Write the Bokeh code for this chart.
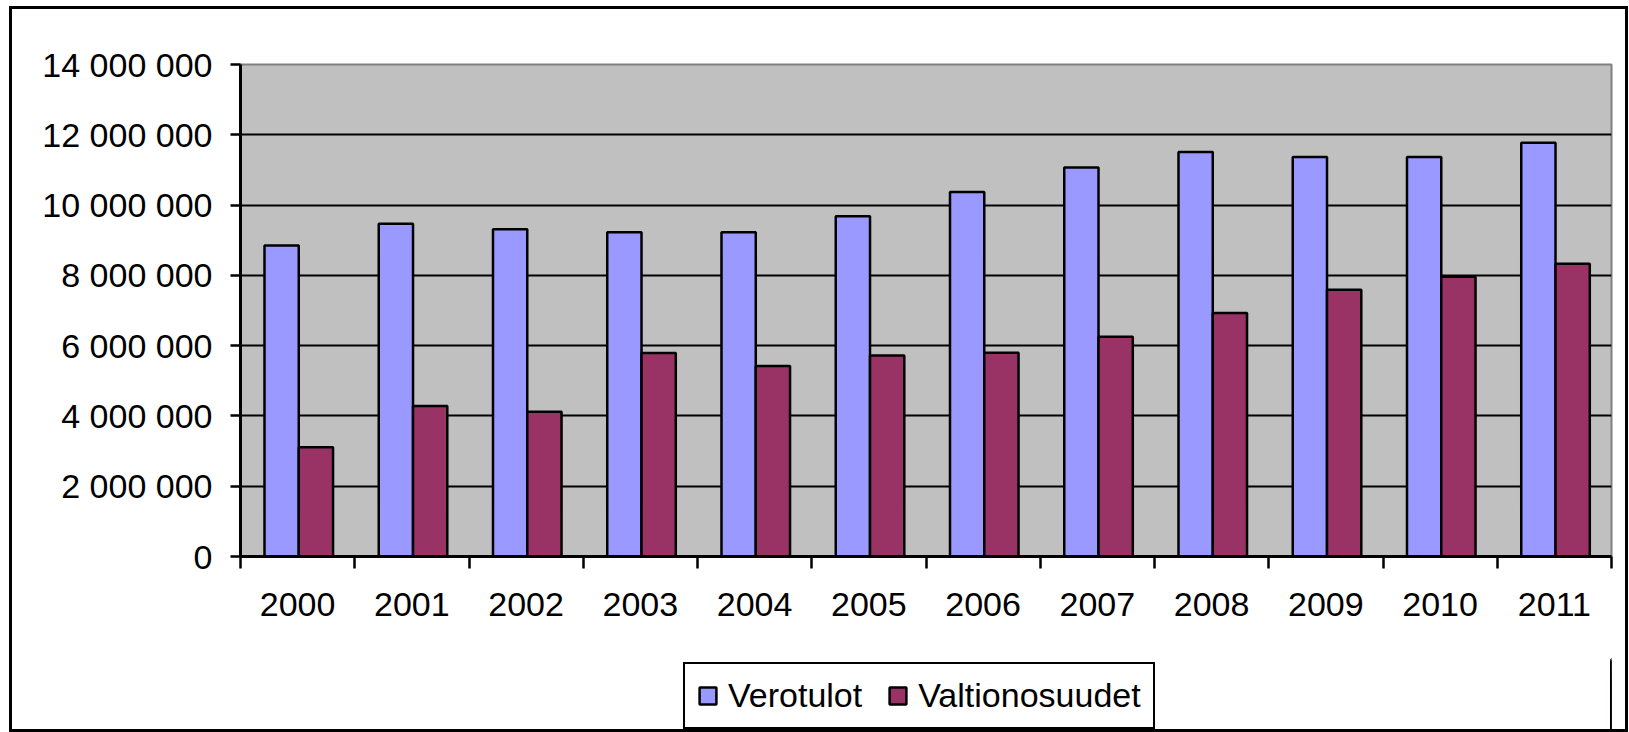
import numpy as np
from bokeh.plotting import figure
from bokeh.layouts import column
from bokeh.models import FixedTicker, Range1d, Legend, LegendItem
from bokeh.embed import file_html
from bokeh.resources import INLINE

years = ["2000", "2001", "2002", "2003", "2004", "2005",
         "2006", "2007", "2008", "2009", "2010", "2011"]
verotulot = [8850000, 9470000, 9310000, 9230000, 9230000, 9680000,
             10370000, 11070000, 11510000, 11370000, 11370000, 11770000]
valtionosuudet = [3110000, 4280000, 4120000, 5790000, 5420000, 5720000,
                  5800000, 6250000, 6930000, 7590000, 7960000, 8330000]
y_ticks = [0, 2000000, 4000000, 6000000, 8000000, 10000000, 12000000, 14000000]
y_labels = ["0", "2 000 000", "4 000 000", "6 000 000", "8 000 000",
            "10 000 000", "12 000 000", "14 000 000"]
series_names = ["Verotulot", "Valtionosuudet"]
series_colors = ["#9999FF", "#993366"]

FONT = "Liberation Sans"
idx = np.arange(len(years))

p = figure(width=1619, height=639, output_backend="svg", toolbar_location=None,
           x_range=Range1d(0, len(years)), y_range=Range1d(0, 14000000),
           min_border_left=228, min_border_right=20, min_border_top=55,
           min_border_bottom=92)
p.styles = {"border-top": "3px solid black", "border-left": "3px solid black",
            "border-right": "3px solid black"}
p.background_fill_color = "#C0C0C0"
p.border_fill_color = "white"
p.outline_line_color = "#808080"
p.outline_line_width = 2

r1 = p.vbar(x=idx + 0.36, top=verotulot, width=0.3, bottom=0,
            fill_color=series_colors[0], line_color="black", line_width=2.5)
r2 = p.vbar(x=idx + 0.66, top=valtionosuudet, width=0.3, bottom=0,
            fill_color=series_colors[1], line_color="black", line_width=2.5)

p.xgrid.visible = False
p.ygrid.grid_line_color = "black"
p.ygrid.grid_line_width = 2

# y axis
p.yaxis.ticker = FixedTicker(ticks=y_ticks)
p.yaxis.major_label_overrides = dict(zip(y_ticks, y_labels))
p.yaxis.axis_line_width = 3
p.yaxis.axis_line_color = "black"
p.yaxis.major_tick_in = 0
p.yaxis.major_tick_out = 10
p.yaxis.major_tick_line_width = 2.5
p.yaxis.minor_tick_line_color = None
p.yaxis.major_label_text_font = FONT
p.yaxis.major_label_text_font_size = "34px"
p.yaxis.major_label_text_color = "black"
p.yaxis.major_label_standoff = 18

# x axis: labels at centers, ticks at boundaries
centers = list(idx + 0.5)
p.xaxis.ticker = FixedTicker(ticks=centers, minor_ticks=list(range(len(years) + 1)))
p.xaxis.major_label_overrides = {float(c): y for c, y in zip(centers, years)}
p.xaxis.axis_line_width = 3
p.xaxis.axis_line_color = "black"
p.xaxis.major_tick_in = 0
p.xaxis.major_tick_out = 0
p.xaxis.major_tick_line_color = None
p.xaxis.minor_tick_in = 0
p.xaxis.minor_tick_out = 12
p.xaxis.minor_tick_line_width = 2.5
p.xaxis.minor_tick_line_color = "black"
p.xaxis.major_label_text_font = FONT
p.xaxis.major_label_text_font_size = "34px"
p.xaxis.major_label_text_color = "black"
p.xaxis.major_label_standoff = 24

# legend strip (frame aligned with the chart frame by the column layout)
q = figure(width=1619, height=87, output_backend="svg", toolbar_location=None,
           x_range=Range1d(-3, -2), y_range=Range1d(0, 14000000),
           x_axis_type=None, y_axis_type=None, min_border=0)
q.styles = {"border-bottom": "3px solid black", "border-left": "3px solid black",
            "border-right": "3px solid black"}
q.grid.visible = False
q.outline_line_color = None
q.background_fill_color = "white"
q.border_fill_color = "white"
l1 = q.vbar(x=idx + 0.36, top=verotulot, width=0.3, fill_color=series_colors[0],
            line_color="black", line_width=2.5)
l2 = q.vbar(x=idx + 0.66, top=valtionosuudet, width=0.3, fill_color=series_colors[1],
            line_color="black", line_width=2.5)

legend = Legend(items=[LegendItem(label=series_names[0], renderers=[l1]),
                       LegendItem(label=series_names[1], renderers=[l2])],
                orientation="horizontal", location=(443, 3))
legend.label_text_font = FONT
legend.label_text_font_size = "34px"
legend.label_text_color = "black"
legend.border_line_color = "black"
legend.border_line_alpha = 1
legend.border_line_width = 2.5
legend.background_fill_color = "white"
legend.background_fill_alpha = 1
legend.glyph_width = 21
legend.glyph_height = 21
legend.label_standoff = 10
legend.spacing = 25
legend.padding = 12
legend.margin = 0
q.add_layout(legend, "center")

layout = column(p, q, spacing=0)
layout.styles = {"margin-left": "9px", "margin-top": "6px"}

open("out.html", "w").write(file_html(layout, INLINE))
